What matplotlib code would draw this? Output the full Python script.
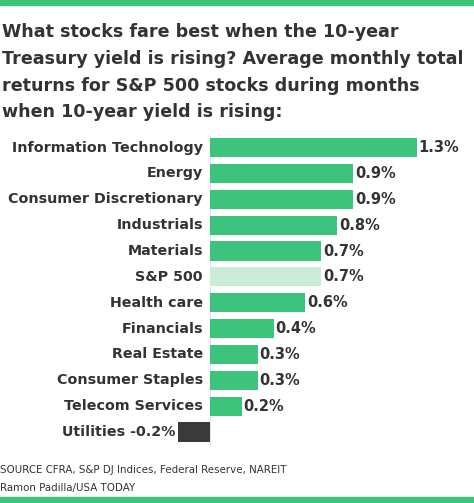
import matplotlib.pyplot as plt
from matplotlib.patches import Rectangle

categories = ["Information Technology", "Energy", "Consumer Discretionary",
              "Industrials", "Materials", "S&P 500", "Health care",
              "Financials", "Real Estate", "Consumer Staples",
              "Telecom Services", "Utilities"]
values = [1.3, 0.9, 0.9, 0.8, 0.7, 0.7, 0.6, 0.4, 0.3, 0.3, 0.2, -0.2]
value_labels = ["1.3%", "0.9%", "0.9%", "0.8%", "0.7%", "0.7%", "0.6%",
                "0.4%", "0.3%", "0.3%", "0.2%", "-0.2%"]

title = ("What stocks fare best when the 10-year\n"
         "Treasury yield is rising? Average monthly total\n"
         "returns for S&P 500 stocks during months\n"
         "when 10-year yield is rising:")
source = "SOURCE CFRA, S&P DJ Indices, Federal Reserve, NAREIT"
credit = "Ramon Padilla/USA TODAY"

GREEN = "#3cc47c"
LIGHT = "#c9ecd9"
DARK = "#3a3a3a"
TEXT = "#333333"

W, H = 474, 503
fig = plt.figure(figsize=(W / 100, H / 100), dpi=100)
fig.patch.set_facecolor("white")

# green bands top and bottom
fig.patches.append(Rectangle((0, 1 - 5 / H), 1, 5 / H, transform=fig.transFigure,
                             color=GREEN, zorder=0))
fig.patches.append(Rectangle((0, 0), 1, 6 / H, transform=fig.transFigure,
                             color=GREEN, zorder=0))

fig.text(2 / W, 1 - 23 / H, title, ha="left", va="top", fontsize=12.6,
         fontweight="bold", color=TEXT, linespacing=1.63)
fig.text(0, 1 - 470 / H, source, ha="left", va="center", fontsize=7.4, color=TEXT)
fig.text(0, 1 - 488 / H, credit, ha="left", va="center", fontsize=7.4, color=TEXT)

# axes: zero at x=210px, 159 px per unit
ax = fig.add_axes([0, (H - 445) / H, 1, 310.4 / H])
ax.set_xlim(-210 / 159, (W - 210) / 159)
ax.set_ylim(len(categories) - 0.5, -0.5)
ax.axis("off")

colors = [GREEN] * len(values)
colors[categories.index("S&P 500")] = LIGHT
colors[categories.index("Utilities")] = DARK
ypos = list(range(len(categories)))
ax.barh(ypos, values, height=0.74, color=colors, zorder=2)
ax.axvline(0, color="#e6e6e6", lw=0.8, zorder=1)

for y, cat, v, lab in zip(ypos, categories, values, value_labels):
    if v >= 0:
        ax.text(-0.045, y, cat, ha="right", va="center", fontsize=10.3,
                fontweight="bold", color=TEXT)
        ax.text(v + 0.012, y, lab, ha="left", va="center", fontsize=10.5,
                fontweight="bold", color=TEXT)
    else:
        ax.text(v - 0.02, y, cat + " " + lab, ha="right", va="center",
                fontsize=10.3, fontweight="bold", color=TEXT)

fig.savefig("out.png", dpi=100)
